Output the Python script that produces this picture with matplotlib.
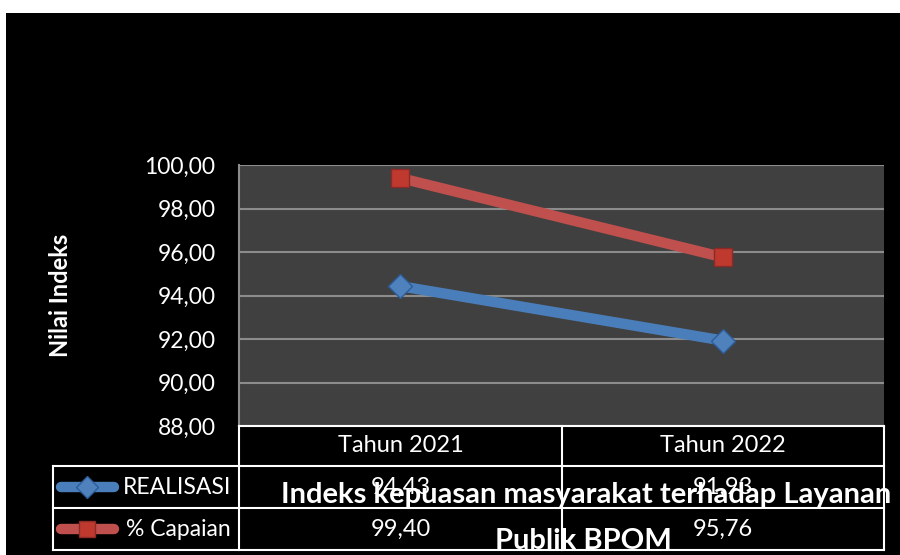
import matplotlib.pyplot as plt
from matplotlib.patches import Rectangle
from matplotlib.lines import Line2D

# data
kategori = ["Tahun 2021", "Tahun 2022"]
realisasi = [94.43, 91.93]
capaian = [99.40, 95.76]
seri = ["REALISASI", "% Capaian"]
judul = ["Indeks kepuasan masyarakat terhadap Layanan", "Publik BPOM"]

plt.rcParams['font.family'] = ['Lato', 'DejaVu Sans']

W, H = 900, 555
fig = plt.figure(figsize=(9, 5.55), dpi=100, facecolor="white")


def fx(x):
    return x / W


def fy(y):
    return 1 - y / H


# black chart background
fig.patches.append(Rectangle((fx(6), 0), 1, fy(13), transform=fig.transFigure,
                             facecolor="black", edgecolor="none", zorder=-10))

L, R, T, B = 239, 884, 165, 426
ax = fig.add_axes([fx(L), fy(B), fx(R) - fx(L), fy(T) - fy(B)])
ax.set_zorder(1)
ax.set_facecolor("#404040")
x = list(range(len(kategori)))

ax.plot(x, realisasi, color="#4a7ebb", lw=7.5, marker="D", ms=12,
        mfc="#4f81bd", mec="#2c5d98", mew=1, solid_capstyle="round", zorder=3)
ax.plot(x, capaian, color="#c0504d", lw=7.5, marker="s", ms=13,
        mfc="#c0392f", mec="#8c2a27", mew=1, solid_capstyle="round", zorder=3)

ax.set_xlim(-0.5, 1.5)
ax.set_ylim(88, 100)
ax.set_yticks([88, 90, 92, 94, 96, 98, 100])
ax.set_yticklabels([f"{v:.2f}".replace(".", ",") for v in ax.get_yticks()])
ax.tick_params(axis="y", length=0, pad=17, labelsize=16.5, colors="white")
ax.set_xticks([])
ax.grid(axis="y", color="#8c8c8c", lw=1.5)
ax.set_axisbelow(True)
for s in ["top", "right", "bottom"]:
    ax.spines[s].set_visible(False)
ax.spines["left"].set_color("#8c8c8c")
ax.spines["left"].set_linewidth(1.5)

fig.text(fx(60), fy(295), "Nilai Indeks", rotation=90, ha="center", va="center",
         color="white", fontsize=17, fontweight="bold")

# data table below the plot
col_x = [53, 239, 562, 884]
row_y = [426, 466, 508, 550]
lc = "white"
lw = 1.5


def hline(y, x0, x1):
    fig.add_artist(Line2D([fx(x0), fx(x1)], [fy(y), fy(y)], color=lc, lw=lw,
                          transform=fig.transFigure, zorder=2))


def vline(x0, y0, y1):
    fig.add_artist(Line2D([fx(x0), fx(x0)], [fy(y0), fy(y1)], color=lc, lw=lw,
                          transform=fig.transFigure, zorder=2))


hline(row_y[0], col_x[1], col_x[3])
for y in row_y[1:]:
    hline(y, col_x[0], col_x[3])
vline(col_x[0], row_y[1], row_y[3])
for cx in col_x[1:]:
    vline(cx, row_y[0], row_y[3])

for i, k in enumerate(kategori):
    cx = (col_x[i + 1] + col_x[i + 2]) / 2
    fig.text(fx(cx), fy((row_y[0] + row_y[1]) / 2), k, ha="center", va="center",
             color="white", fontsize=17)
    for j, vals in enumerate([realisasi, capaian]):
        fig.text(fx(cx), fy((row_y[j + 1] + row_y[j + 2]) / 2),
                 f"{vals[i]:.2f}".replace(".", ","), ha="center", va="center",
                 color="white", fontsize=17)

styles = [("#4a7ebb", "D", "#4f81bd", "#2c5d98", 11),
          ("#c0504d", "s", "#c0392f", "#8c2a27", 12)]
for j, name in enumerate(seri):
    yc = fy((row_y[j + 1] + row_y[j + 2]) / 2)
    c, m, mf, me, ms = styles[j]
    fig.add_artist(Line2D([fx(61), fx(114)], [yc, yc], color=c, lw=7.5,
                          solid_capstyle="round", transform=fig.transFigure, zorder=3))
    fig.add_artist(Line2D([fx(87)], [yc], marker=m, ms=ms, mfc=mf, mec=me,
                          transform=fig.transFigure, zorder=3))
    fig.text(fx(231), yc, name, ha="right", va="center", color="white", fontsize=16.5)

fig.text(fx(586), fy(495), judul[0], ha="center", va="center", color="white",
         fontsize=21, fontweight="bold", zorder=5)
fig.text(fx(583), fy(541), judul[1], ha="center", va="center", color="white",
         fontsize=21, fontweight="bold", zorder=5)

fig.savefig("out.png", dpi=100, facecolor="white")
